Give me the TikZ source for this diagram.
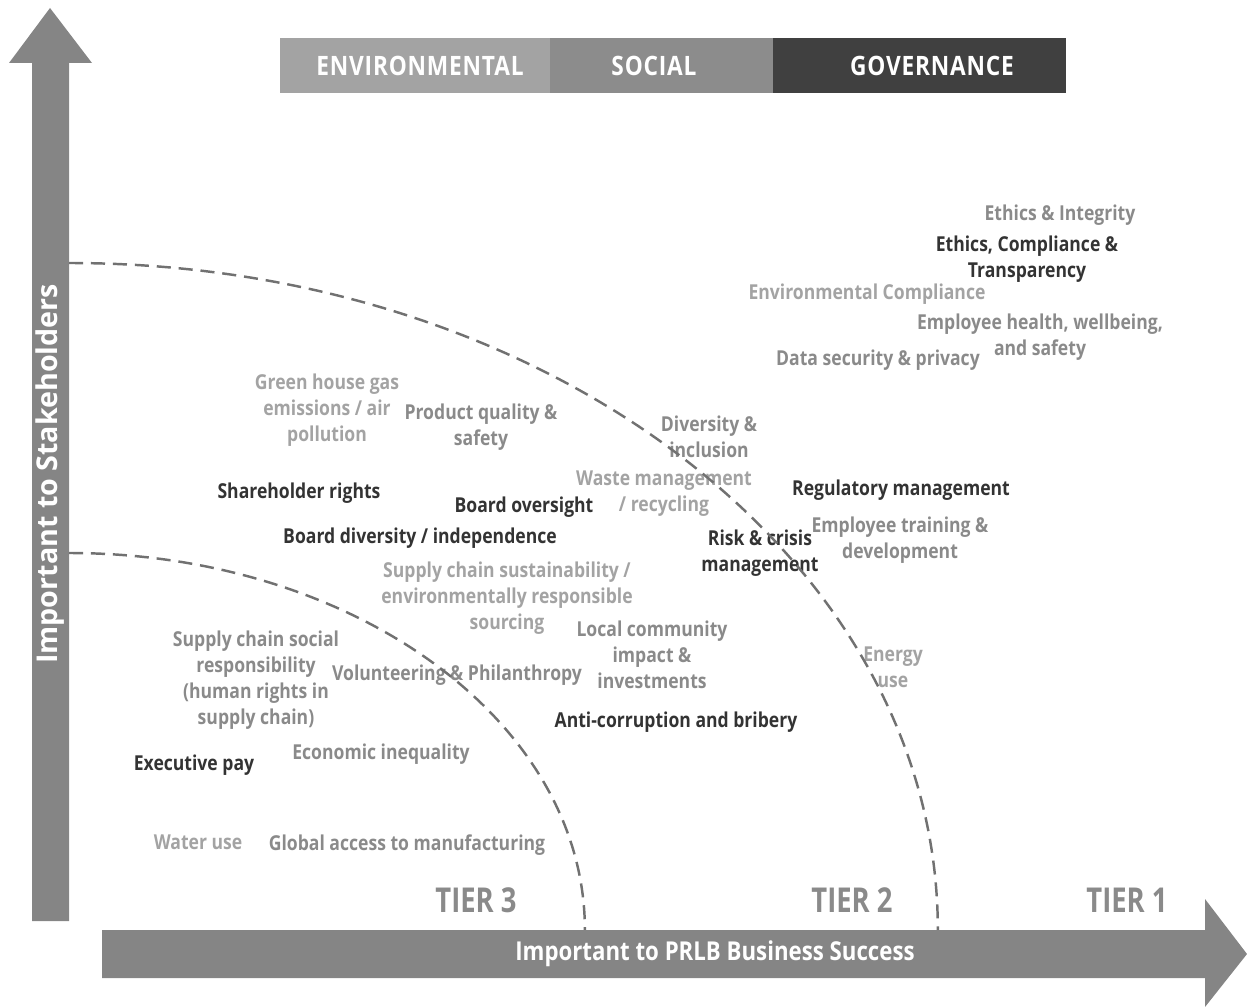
\documentclass[tikz,border=0pt]{standalone}
\usepackage{fontspec}
\setmainfont{Open Sans}
\newfontfamily\itemfont[FakeStretch=0.855]{Open Sans}
\newfontfamily\tierfont[FakeStretch=0.8]{Open Sans}
\newfontfamily\barfont[FakeStretch=0.85,LetterSpace=3]{Open Sans}
\usepackage{tikz}
\usetikzlibrary{positioning}

\definecolor{envgray}{HTML}{A3A3A3}
\definecolor{socgray}{HTML}{8A8A8A}
\definecolor{govgray}{HTML}{333333}
\definecolor{arrowgray}{HTML}{858585}
\definecolor{envfill}{HTML}{A3A3A3}
\definecolor{socfill}{HTML}{8C8C8C}
\definecolor{govfill}{HTML}{404040}

\tikzset{
  item/.style={inner sep=0pt, align=center, font=\itemfont\bfseries\fontsize{11.7}{14.7}\selectfont},
  envitem/.style={item, text=envgray},
  socitem/.style={item, text=socgray},
  govitem/.style={item, text=govgray},
  barlabel/.style={inner sep=0pt, text=white, font=\barfont\bfseries\fontsize{15.2}{18}\selectfont},
  axislabel/.style={inner sep=0pt, text=white, font=\itemfont\bfseries\fontsize{14.8}{17}\selectfont},
  tierlabel/.style={inner sep=0pt, text=socgray, font=\tierfont\bfseries\fontsize{19.5}{22}\selectfont},
  tierline/.style={draw=arrowgray!85!black, line width=1.4pt, dash pattern=on 8pt off 4.5pt}
}

\begin{document}
\begin{tikzpicture}[x=0.02cm, y=-0.02cm]
    \useasboundingbox (0,0) rectangle (1247,1007);
    \begin{scope}
      \fill[envfill] (280,38) rectangle (550,93);
      \fill[socfill] (550,38) rectangle (773,93);
      \fill[govfill] (773,38) rectangle (1066,93);
      \node[barlabel] at (420,66) (B1) {ENVIRONMENTAL};
      \node[barlabel] at (654,66) (B2) {SOCIAL};
      \node[barlabel] at (932,66) (B3) {GOVERNANCE};
    \end{scope}
    \begin{scope}
      \fill[arrowgray] (32,921) -- (32,63) -- (9,63) -- (50,8) -- (92,63) -- (69,63) -- (69,921) -- cycle;
      \fill[arrowgray] (102,930) -- (1205,930) -- (1205,899) -- (1247,954) -- (1205,1007) -- (1205,978) -- (102,978) -- cycle;
      \node[axislabel, rotate=90] at (50,474) (AY) {\fontspec{Open Sans}\bfseries\fontsize{16.3}{18}\selectfont Important to Stakeholders};
      \node[axislabel] at (715,954) (AX) {Important to PRLB Business Success};
    \end{scope}
    \begin{scope}
      \node[socitem] at (1060,215) (S1) {Ethics \& Integrity};
      \node[govitem] at (1027,259) (G1) {Ethics, Compliance \&\\Transparency};
      \node[envitem] at (867,294) (E1) {Environmental Compliance};
      \node[socitem] at (1040,337) (S2) {Employee health, wellbeing,\\and safety};
      \node[socitem] at (878,360) (S3) {Data security \& privacy};
      \node[envitem] at (327,410) (E2) {Green house gas\\emissions / air\\pollution};
      \node[socitem] at (481,427) (S4) {Product quality \&\\safety};
      \node[socitem] at (709,437) (S5) {Diversity \&\\inclusion};
      \node[envitem] at (664,494) (E3) {Waste management\\/ recycling};
      \node[govitem] at (299,493) (G2) {Shareholder rights};
      \node[govitem] at (524,507) (G3) {Board oversight};
      \node[govitem] at (901,490) (G4) {Regulatory management};
      \node[socitem] at (900,540) (S6) {Employee training \&\\development};
      \node[govitem] at (420,538) (G5) {Board diversity / independence};
      \node[govitem] at (760,553) (G6) {Risk \& crisis\\management};
      \node[envitem] at (507,598) (E4) {Supply chain sustainability /\\environmentally responsible\\sourcing};
      \node[socitem] at (652,655) (S7) {Local community\\impact \&\\investments};
      \node[socitem] at (256,680) (S8) {Supply chain social\\responsibility\\(human rights in\\supply chain)};
      \node[socitem] at (457,675) (S9) {Volunteering \& Philanthropy};
      \node[envitem] at (893,667) (E5) {Energy\\use};
      \node[govitem] at (676,722) (G7) {Anti-corruption and bribery};
      \node[govitem] at (194,765) (G8) {Executive pay};
      \node[socitem] at (381,754) (S10) {Economic inequality};
      \node[envitem] at (198,842) (E6) {Water use};
      \node[socitem] at (407,845) (S11) {Global access to manufacturing};
    \end{scope}
    \begin{scope}
      \node[tierlabel] at (476,900) (T3) {TIER 3};
      \node[tierlabel] at (852,900) (T2) {TIER 2};
      \node[tierlabel] at (1127,900) (T1) {TIER 1};
      \draw[tierline] (69,263) arc[start angle=90, end angle=0, x radius=17.38cm, y radius=13.34cm];
      \draw[tierline] (69,553) arc[start angle=90, end angle=0, x radius=10.32cm, y radius=7.54cm];
    \end{scope}
  \end{tikzpicture}
\end{document}
